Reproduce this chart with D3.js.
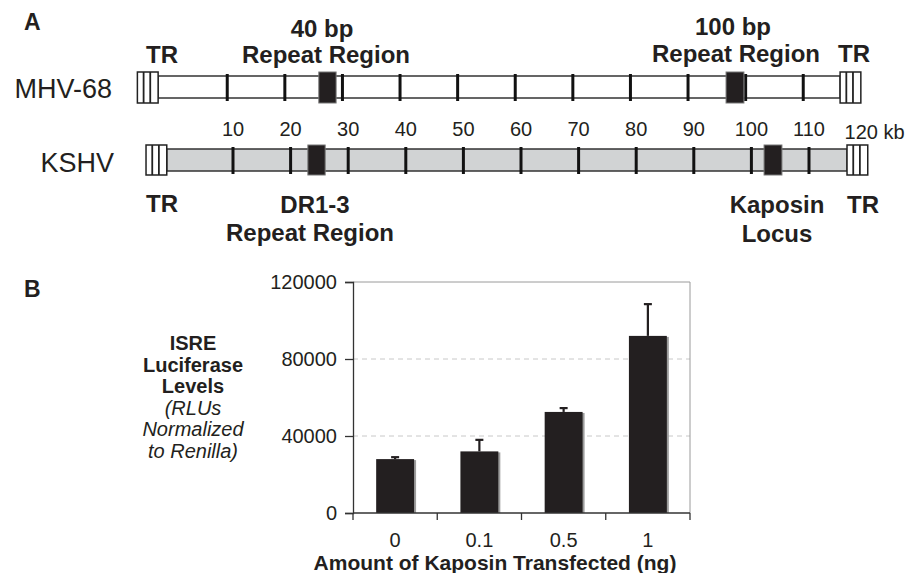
<!DOCTYPE html>
<html>
<head>
<meta charset="utf-8">
<script src="https://cdn.jsdelivr.net/npm/d3@7"></script>
<style>
  body { margin: 0; background: #fff; }
  svg text { font-family: "Liberation Sans", Arial, sans-serif; fill: #231f20; }
</style>
</head>
<body>
<div class="canvas"></div>
<script>
// ---- panel A data (kb positions) ----
const kshvTicks = [10, 20, 30, 40, 50, 60, 70, 80, 90, 100, 110];
const kshvTickLabels = ["10", "20", "30", "40", "50", "60", "70", "80", "90", "100", "110"];
const mhvTicks = [9, 19, 29, 39, 49, 59, 69, 79, 89, 99, 109];
const mhvSpan = [-3, 115.4];
const kshvSpan = [-1.5, 116.6];
const trWidth = 3.6;
const mhvRegions = [[24.9, 27.9], [95.6, 98.7]];
const kshvRegions = [[23, 26], [102.2, 105.3]];

// ---- panel B data ----
const doses = ["0", "0.1", "0.5", "1"];
const luciferase = [28000, 32000, 52500, 92000];
const errUpper = [29000, 38000, 54500, 108500];
const yTicks = [0, 40000, 80000, 120000];

const width = 909, height = 573;
const svg = d3.select(".canvas").append("svg")
  .attr("width", width).attr("height", height);

const ink = "#231f20";

// panel letters
svg.append("text").attr("x", 24).attr("y", 30).attr("font-size", 23)
  .attr("font-weight", "bold").text("A");
svg.append("text").attr("x", 24).attr("y", 297).attr("font-size", 23)
  .attr("font-weight", "bold").text("B");

// genome scale (shared by both tracks)
const g = d3.scaleLinear().domain([10, 110]).range([233, 809]);

const drawTrack = (opt) => {
  const grp = svg.append("g");
  // main bar
  grp.append("rect")
    .attr("x", g(opt.span[0])).attr("y", opt.barTop)
    .attr("width", g(opt.span[1]) - g(opt.span[0]))
    .attr("height", opt.barBottom - opt.barTop)
    .attr("fill", opt.fill).attr("stroke", "#333").attr("stroke-width", 1.5);
  // tick marks
  grp.selectAll("line.tk").data(opt.ticks).enter().append("line")
    .attr("class", "tk")
    .attr("x1", (d) => g(d)).attr("x2", (d) => g(d))
    .attr("y1", opt.barTop - 2).attr("y2", opt.barBottom + 3)
    .attr("stroke", "#111").attr("stroke-width", 3);
  // black regions
  grp.selectAll("rect.reg").data(opt.regions).enter().append("rect")
    .attr("class", "reg")
    .attr("x", (d) => g(d[0])).attr("y", opt.boxTop)
    .attr("width", (d) => g(d[1]) - g(d[0]))
    .attr("height", opt.boxBottom - opt.boxTop)
    .attr("fill", ink).attr("stroke", "#777").attr("stroke-width", 1);
  // terminal repeats
  const trs = [[opt.span[0] - trWidth, opt.span[0]], [opt.span[1], opt.span[1] + trWidth]];
  trs.forEach((t) => {
    const x0 = g(t[0]), x1 = g(t[1]);
    grp.append("rect")
      .attr("x", x0).attr("y", opt.boxTop)
      .attr("width", x1 - x0).attr("height", opt.boxBottom - opt.boxTop)
      .attr("fill", "#fff").attr("stroke", "#222").attr("stroke-width", 1.5);
    [0.3, 0.62].forEach((f) => {
      grp.append("line")
        .attr("x1", x0 + f * (x1 - x0)).attr("x2", x0 + f * (x1 - x0))
        .attr("y1", opt.boxTop).attr("y2", opt.boxBottom)
        .attr("stroke", "#222").attr("stroke-width", 1.8);
    });
  });
};

drawTrack({ span: mhvSpan, ticks: mhvTicks, regions: mhvRegions, fill: "#fff",
  barTop: 76, barBottom: 98, boxTop: 72, boxBottom: 103 });
drawTrack({ span: kshvSpan, ticks: kshvTicks, regions: kshvRegions, fill: "#d1d3d4",
  barTop: 149, barBottom: 171, boxTop: 145, boxBottom: 175 });

// track names
svg.append("text").attr("x", 112).attr("y", 98).attr("text-anchor", "end")
  .attr("font-size", 27).text("MHV-68");
svg.append("text").attr("x", 114).attr("y", 172).attr("text-anchor", "end")
  .attr("font-size", 27).text("KSHV");

// kb labels
svg.selectAll("text.kb").data(kshvTicks).enter().append("text")
  .attr("class", "kb")
  .attr("x", (d) => g(d)).attr("y", 136)
  .attr("text-anchor", "middle").attr("font-size", 20)
  .text((d, i) => kshvTickLabels[i]);
svg.append("text").attr("x", g(120) - 22).attr("y", 139)
  .attr("font-size", 20).text("120 kb");

// annotations
const note = (x, y, txt, anchor) => svg.append("text")
  .attr("x", x).attr("y", y).attr("text-anchor", anchor || "middle")
  .attr("font-size", 24).attr("font-weight", "bold").text(txt);
note(322, 37, "40 bp");
note(326, 63, "Repeat Region");
note(146, 63, "TR", "start");
note(733, 35, "100 bp");
note(736, 62, "Repeat Region");
note(838, 62, "TR", "start");
note(146, 212, "TR", "start");
note(315, 213, "DR1-3");
note(310, 241, "Repeat Region");
note(777, 213, "Kaposin");
note(777, 242, "Locus");
note(847, 213, "TR", "start");

// ---- panel B: bar chart ----
const plotL = 353, plotR = 690, plotT = 282, plotB = 513;
const x = d3.scaleBand().domain(doses).range([plotL, plotR])
  .paddingInner(0.55).paddingOuter(0.275);
const y = d3.scaleLinear().domain([0, 120000]).range([plotB, plotT]);

// gridlines
svg.selectAll("line.grid").data(yTicks.filter((d) => d > 0 && d < 120000))
  .enter().append("line").attr("class", "grid")
  .attr("x1", plotL).attr("x2", plotR)
  .attr("y1", (d) => y(d)).attr("y2", (d) => y(d))
  .attr("stroke", "#c8c8c8").attr("stroke-width", 1).attr("stroke-dasharray", "5,4");

// plot frame (top and right)
svg.append("path")
  .attr("d", `M${plotL},${plotT}H${plotR}V${plotB}`)
  .attr("fill", "none").attr("stroke", "#9a9a9a").attr("stroke-width", 1);

// bars with slight shadow
svg.selectAll("rect.shadow").data(luciferase).enter().append("rect")
  .attr("class", "shadow")
  .attr("x", (d, i) => x(doses[i]) + 2).attr("y", (d) => y(d) + 1)
  .attr("width", x.bandwidth()).attr("height", (d) => plotB - y(d) - 1)
  .attr("fill", "#9d9d9d");
svg.selectAll("rect.bar").data(luciferase).enter().append("rect")
  .attr("class", "bar")
  .attr("x", (d, i) => x(doses[i])).attr("y", (d) => y(d))
  .attr("width", x.bandwidth()).attr("height", (d) => plotB - y(d))
  .attr("fill", ink);

// error bars
const cx = (i) => x(doses[i]) + x.bandwidth() / 2;
svg.selectAll("line.err").data(errUpper).enter().append("line")
  .attr("class", "err")
  .attr("x1", (d, i) => cx(i)).attr("x2", (d, i) => cx(i))
  .attr("y1", (d, i) => y(luciferase[i])).attr("y2", (d) => y(d))
  .attr("stroke", ink).attr("stroke-width", 2.2);
svg.selectAll("line.cap").data(errUpper).enter().append("line")
  .attr("class", "cap")
  .attr("x1", (d, i) => cx(i) - 4).attr("x2", (d, i) => cx(i) + 4)
  .attr("y1", (d) => y(d)).attr("y2", (d) => y(d))
  .attr("stroke", ink).attr("stroke-width", 2.2);

// axes
const yAxis = d3.axisLeft(y).tickValues(yTicks).tickSize(8).tickPadding(4)
  .tickFormat(d3.format("d"));
const yG = svg.append("g").attr("transform", `translate(${plotL},0)`).call(yAxis);
yG.select(".domain").attr("stroke", "#333").attr("stroke-width", 1.3);
yG.selectAll(".tick line").attr("stroke", "#333").attr("stroke-width", 1.3);
yG.selectAll("text").attr("font-size", 20).attr("font-family", "Liberation Sans, Arial, sans-serif")
  .attr("fill", ink).attr("dx", -4);

const xAxis = d3.axisBottom(x).tickSize(0).tickPadding(20);
const xG = svg.append("g").attr("transform", `translate(0,${plotB})`).call(xAxis);
xG.select(".domain").attr("d", `M${plotL},0H${plotR}`).attr("stroke", "#333").attr("stroke-width", 1.3);
xG.selectAll("text").attr("font-size", 20).attr("font-family", "Liberation Sans, Arial, sans-serif")
  .attr("fill", ink);
// category boundary ticks
const bounds = doses.map((d) => x(d) - (x.step() - x.bandwidth()) / 2);
bounds.push(plotR);
xG.selectAll("line.bnd").data(bounds).enter().append("line")
  .attr("class", "bnd")
  .attr("x1", (d) => d).attr("x2", (d) => d)
  .attr("y1", 0).attr("y2", 7)
  .attr("stroke", "#333").attr("stroke-width", 1.3);

// axis titles
svg.append("text").attr("x", 495).attr("y", 570).attr("text-anchor", "middle")
  .attr("font-size", 21).attr("font-weight", "bold")
  .text("Amount of Kaposin Transfected (ng)");

const yTitle = [
  { t: "ISRE", b: true }, { t: "Luciferase", b: true }, { t: "Levels", b: true },
  { t: "(RLUs", b: false }, { t: "Normalized", b: false }, { t: "to Renilla)", b: false }
];
svg.selectAll("text.ytitle").data(yTitle).enter().append("text")
  .attr("class", "ytitle")
  .attr("x", 193).attr("y", (d, i) => 350 + i * 21.5)
  .attr("text-anchor", "middle").attr("font-size", 20)
  .attr("font-weight", (d) => (d.b ? "bold" : "normal"))
  .attr("font-style", (d) => (d.b ? "normal" : "italic"))
  .text((d) => d.t);
</script>
</body>
</html>
